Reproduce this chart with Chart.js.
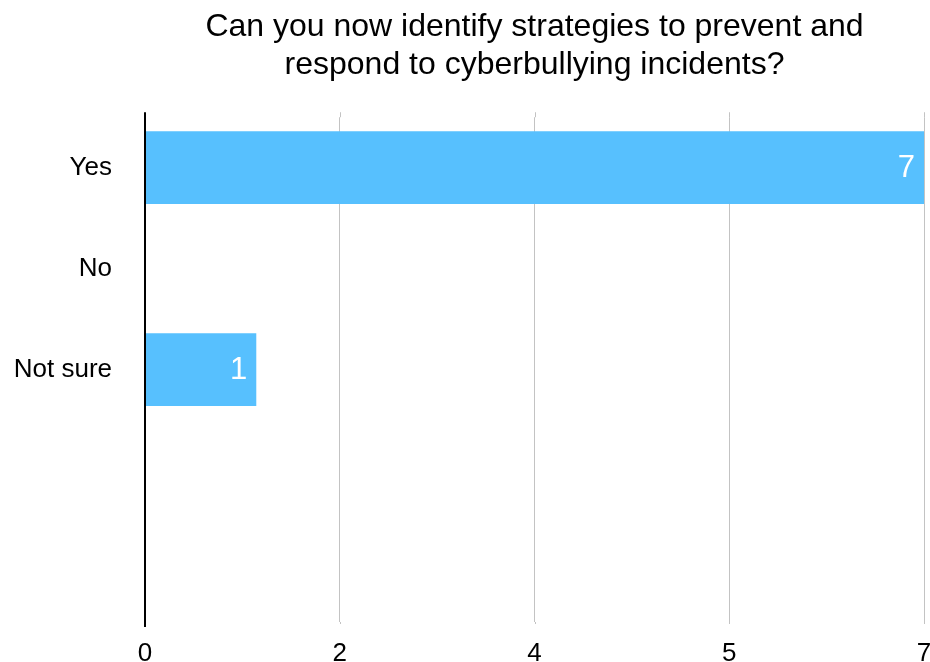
<!DOCTYPE html>
<html>
<head>
<meta charset="utf-8">
<script src="https://cdn.jsdelivr.net/npm/chart.js@4.4.1/dist/chart.umd.min.js"></script>
<style>
html,body{margin:0;padding:0;background:#fff;overflow:hidden;}
#wrap{width:930px;height:662px;position:relative;overflow:hidden;}
canvas{display:block;}
</style>
</head>
<body>
<div id="wrap"><canvas id="c" width="930" height="662"></canvas></div>
<script>
const titleLines = ["Can you now identify strategies to prevent and", "respond to cyberbullying incidents?"];
const categories = ["Yes", "No", "Not sure", "", ""];
const values = [7, 0, 1, null, null];
const tickValues = [0, 1.75, 3.5, 5.25, 7];
const tickLabels = ["0", "2", "4", "5", "7"];

const FONT = "'Liberation Sans', Arial, Helvetica, sans-serif";
const BAR = '#57C0FE';

const valueLabels = {
  id: 'valueLabels',
  afterDatasetsDraw(chart) {
    const ctx = chart.ctx;
    const meta = chart.getDatasetMeta(0);
    ctx.save();
    ctx.fillStyle = '#ffffff';
    ctx.font = '31px ' + FONT;
    ctx.textAlign = 'right';
    ctx.textBaseline = 'middle';
    meta.data.forEach((bar, i) => {
      const v = values[i];
      if (v) ctx.fillText(String(v), bar.x - 9, bar.y + 1);
    });
    ctx.restore();
  }
};

const axisExt = {
  id: 'axisExt',
  afterDraw(chart) {
    const ctx = chart.ctx;
    const a = chart.chartArea;
    const xs = chart.scales.x;
    ctx.save();
    ctx.strokeStyle = '#c3c3c3';
    ctx.lineWidth = 1;
    tickValues.slice(1).forEach(v => {
      const px = Math.round(xs.getPixelForValue(v)) + 0.5;
      ctx.beginPath();
      ctx.moveTo(px, a.top - 5);
      ctx.lineTo(px, a.top);
      ctx.moveTo(px, a.bottom);
      ctx.lineTo(px, a.bottom + 2);
      ctx.stroke();
    });
    ctx.strokeStyle = '#000';
    ctx.lineWidth = 2;
    const x0 = xs.getPixelForValue(0);
    ctx.beginPath();
    ctx.moveTo(x0, a.top - 5);
    ctx.lineTo(x0, a.bottom + 5);
    ctx.stroke();
    ctx.restore();
  }
};

new Chart(document.getElementById('c'), {
  type: 'bar',
  data: {
    labels: categories,
    datasets: [{
      data: values,
      backgroundColor: BAR,
      borderWidth: 0,
      categoryPercentage: 1,
      barPercentage: 0.72
    }]
  },
  options: {
    indexAxis: 'y',
    responsive: false,
    animation: false,
    devicePixelRatio: 1,
    layout: { padding: { left: 0, right: 6, top: 0, bottom: 0 } },
    plugins: {
      legend: { display: false },
      tooltip: { enabled: false },
      title: {
        display: true,
        fullSize: false,
        text: titleLines,
        color: '#000',
        font: { family: FONT, size: 32, weight: 'normal', lineHeight: 1.16 },
        padding: { top: 9, bottom: 34 }
      }
    },
    scales: {
      x: {
        min: 0,
        max: 7,
        afterBuildTicks(scale) { scale.ticks = tickValues.map(v => ({ value: v })); },
        afterFit(scale) { scale.height = 40; scale.paddingRight = 0; scale.paddingLeft = 0; },
        grid: { color: '#c3c3c3', lineWidth: 1, drawTicks: false },
        border: { display: false },
        ticks: {
          color: '#000',
          font: { family: FONT, size: 26 },
          padding: 16,
          maxRotation: 0,
          autoSkip: false,
          callback: (v, i) => tickLabels[i]
        }
      },
      y: {
        afterFit(scale) { scale.width = 145; scale.paddingTop = 0; scale.paddingBottom = 0; },
        grid: { display: false, drawTicks: false },
        border: { display: true, color: '#000', width: 2 },
        ticks: {
          color: '#000',
          font: { family: FONT, size: 26 },
          padding: 33
        }
      }
    }
  },
  plugins: [valueLabels, axisExt]
});
</script>
</body>
</html>
